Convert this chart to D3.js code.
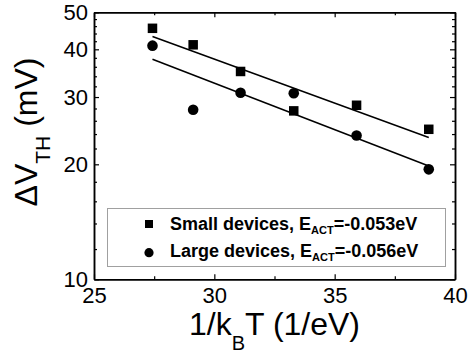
<!DOCTYPE html>
<html>
<head>
<meta charset="utf-8">
<script src="https://cdn.jsdelivr.net/npm/d3@7"></script>
<style>
  html, body { margin: 0; padding: 0; background: #fff; }
  svg { display: block; font-family: "Liberation Sans", Arial, sans-serif; }
</style>
</head>
<body>
<svg id="chart" width="470" height="356"></svg>
<script>
// Inverse thermal energy 1/kBT (1/eV) for each measurement temperature
const invKT = [27.43, 29.12, 31.09, 33.30, 35.91, 38.91];
// Threshold voltage shift (mV)
const smallDV = [45.4, 41.1, 35.0, 27.6, 28.55, 24.7];
const largeDV = [40.9, 27.8, 30.8, 30.7, 23.8, 19.4];
// Arrhenius fits: activation energies (eV) and fit value at the range centre
const activation = [-0.053, -0.056];
const fitCentre = [31.87, 27.31];
const seriesNames = ["Small devices, ", "Large devices, "];

const xTicks = [25, 30, 35, 40];
const xMinorTicks = [27.5, 32.5, 37.5];
const yTicks = [10, 20, 30, 40, 50];
const yMinorTicks = [12, 14, 16, 18, 22, 24, 26, 28, 32, 34, 36, 38, 42, 44, 46, 48];

const svg = d3.select("#chart");
const L = 94, R = 455, T = 12.3, B = 279.3;

const x = d3.scaleLinear().domain([25, 40]).range([L, R]);
const y = d3.scaleLog().domain([10, 50]).range([B, T]);

function styleAxis(g) {
  g.selectAll("path.domain").attr("stroke", "#000").attr("stroke-width", 1.5);
  g.selectAll(".tick line").attr("stroke", "#000").attr("stroke-width", 1.2);
  g.selectAll(".tick text").attr("fill", "#000")
    .style("font-family", "Liberation Sans, Arial, sans-serif").style("font-size", "22px");
}

// Bottom axis with labels, plus minor ticks
svg.append("g").attr("transform", `translate(0,${B})`)
  .call(d3.axisBottom(x).tickValues(xTicks).tickFormat(d3.format("d"))
    .tickSizeInner(-5).tickSizeOuter(0).tickPadding(8))
  .call(styleAxis);
svg.append("g").attr("transform", `translate(0,${B})`)
  .call(d3.axisBottom(x).tickValues(xMinorTicks).tickFormat("").tickSizeInner(-3).tickSizeOuter(0))
  .call(styleAxis);
// Top axis, ticks only
svg.append("g").attr("transform", `translate(0,${T})`)
  .call(d3.axisTop(x).tickValues(xTicks).tickFormat("").tickSizeInner(-5).tickSizeOuter(0))
  .call(styleAxis);
svg.append("g").attr("transform", `translate(0,${T})`)
  .call(d3.axisTop(x).tickValues(xMinorTicks).tickFormat("").tickSizeInner(-3).tickSizeOuter(0))
  .call(styleAxis);

// Left axis with labels, plus minor ticks
svg.append("g").attr("transform", `translate(${L},0)`)
  .call(d3.axisLeft(y).tickValues(yTicks).tickFormat(d3.format("d"))
    .tickSizeInner(-5).tickSizeOuter(0).tickPadding(6))
  .call(styleAxis);
svg.append("g").attr("transform", `translate(${L},0)`)
  .call(d3.axisLeft(y).tickValues(yMinorTicks).tickFormat("").tickSizeInner(-3).tickSizeOuter(0))
  .call(styleAxis);
// Right axis, ticks only
svg.append("g").attr("transform", `translate(${R},0)`)
  .call(d3.axisRight(y).tickValues(yTicks).tickFormat("").tickSizeInner(-5).tickSizeOuter(0))
  .call(styleAxis);
svg.append("g").attr("transform", `translate(${R},0)`)
  .call(d3.axisRight(y).tickValues(yMinorTicks).tickFormat("").tickSizeInner(-3).tickSizeOuter(0))
  .call(styleAxis);

// Fit lines over the measured temperature range
const xMid = (invKT[0] + invKT[invKT.length - 1]) / 2;
const fitX = [invKT[0], invKT[invKT.length - 1]];
const line = d3.line().x(d => x(d[0])).y(d => y(d[1]));
activation.forEach((ea, i) => {
  const pts = fitX.map(v => [v, fitCentre[i] * Math.exp(ea * (v - xMid))]);
  svg.append("path").attr("d", line(pts))
    .attr("fill", "none").attr("stroke", "#000").attr("stroke-width", 1.5);
});

// Data markers
const sq = 9.5;
svg.append("g").selectAll("rect").data(invKT.map((v, i) => [v, smallDV[i]]))
  .join("rect")
  .attr("x", d => x(d[0]) - sq / 2).attr("y", d => y(d[1]) - sq / 2)
  .attr("width", sq).attr("height", sq).attr("fill", "#000");
svg.append("g").selectAll("circle").data(invKT.map((v, i) => [v, largeDV[i]]))
  .join("circle")
  .attr("cx", d => x(d[0])).attr("cy", d => y(d[1]))
  .attr("r", 5.3).attr("fill", "#000");

// Legend
const lg = svg.append("g");
lg.append("rect").attr("x", 107.5).attr("y", 208.5).attr("width", 338).attr("height", 58)
  .attr("fill", "#fff").attr("stroke", "#a0a0a0").attr("stroke-width", 1);
lg.append("rect").attr("x", 145).attr("y", 220).attr("width", 8).attr("height", 8).attr("fill", "#000");
lg.append("circle").attr("cx", 149).attr("cy", 252.7).attr("r", 4.6).attr("fill", "#000");
[229.5, 257].forEach((by, i) => {
  const t = lg.append("text").attr("x", 170).attr("y", by)
    .style("font-size", "18px").style("font-weight", "bold").attr("fill", "#000");
  t.append("tspan").text(seriesNames[i] + "E");
  t.append("tspan").attr("dy", 4).style("font-size", "11px").text("ACT");
  t.append("tspan").attr("dy", -4).text("=" + activation[i].toFixed(3) + "eV");
});

// Axis titles
const xt = svg.append("text").attr("x", (L + R) / 2).attr("y", 335)
  .attr("text-anchor", "middle").style("font-size", "32px").attr("fill", "#000");
xt.append("tspan").text("1/k");
xt.append("tspan").attr("dy", 15).style("font-size", "20px").text("B");
xt.append("tspan").attr("dy", -15).text("T (1/eV)");

const yt = svg.append("text").attr("transform", "translate(37,132) rotate(-90)")
  .attr("text-anchor", "middle").style("font-size", "32px").attr("fill", "#000");
yt.append("tspan").text("\u0394V");
yt.append("tspan").attr("dy", 13).style("font-size", "21px").text("TH");
yt.append("tspan").attr("dy", -13).text(" (mV)");
</script>
</body>
</html>
